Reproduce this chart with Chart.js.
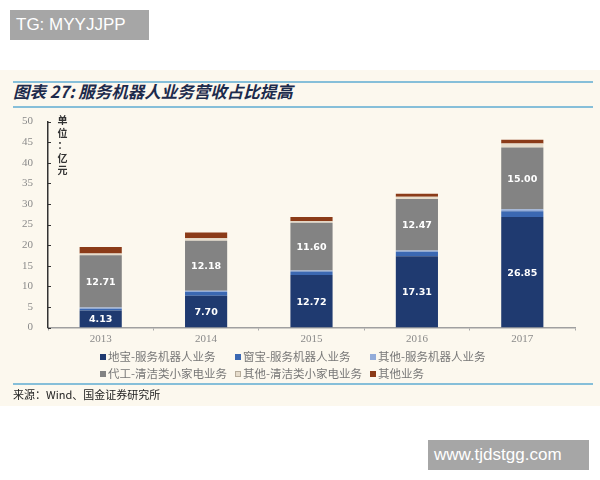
<!DOCTYPE html>
<html>
<head>
<meta charset="utf-8">
<script src="https://cdn.jsdelivr.net/npm/chart.js@4/dist/chart.umd.min.js"></script>
<style>
  html, body { margin: 0; padding: 0; background: #ffffff; }
  body { width: 600px; height: 480px; position: relative; overflow: hidden; font-family: "Noto Sans CJK SC", sans-serif; }
  #paper { position: absolute; left: 0; top: 70px; width: 600px; height: 336px; background: #fcf8ee; }
  .rule { position: absolute; left: 13px; width: 580px; height: 2px; background: #86bfd9; }
  #title { position: absolute; left: 13px; top: 79px; font-size: 16.5px; font-weight: bold; font-style: italic; color: #1d2b4c; line-height: 24px; white-space: nowrap; }
  #unit { position: absolute; left: 57px; top: 114px; font-size: 10px; font-weight: bold; color: #333; line-height: 12.5px; text-align: center; width: 11px; }
  #wrap { position: absolute; left: 0; top: 100px; width: 600px; height: 250px; }
  #legend { position: absolute; left: 100px; top: 349px; display: grid; grid-template-columns: 135px 135px 135px; row-gap: 2px; font-size: 11.5px; color: #777; line-height: 15px; white-space: nowrap; }
  #legend span.b { display: inline-block; width: 6px; height: 6px; margin-right: 2px; vertical-align: 1px; }
  #source { position: absolute; left: 13px; top: 386px; font-size: 11px; color: #222; line-height: 16px; }
  .wm { position: absolute; background: #a6a6a6; color: #fff; font-family: "Liberation Sans", Arial, sans-serif; font-size: 17px; line-height: 30px; padding-left: 6px; box-sizing: border-box; }
</style>
</head>
<body>
<div id="paper"></div>
<div class="rule" style="top:81px"></div>
<div id="title">图表 27: 服务机器人业务营收占比提高</div>
<div class="rule" style="top:106px"></div>
<div id="wrap"><canvas id="c" width="600" height="250"></canvas></div>
<div id="unit">单<br>位<br>：<br>亿<br>元</div>
<div id="legend"></div>
<div class="rule" style="top:383px"></div>
<div id="source">来源：Wind、国金证券研究所</div>
<div class="wm" style="left:10px;top:10px;width:139px;height:30px;">TG: MYYJJPP</div>
<div class="wm" style="left:428px;top:440px;width:161px;height:30px;">www.tjdstgg.com</div>
<script>
const categories = ['2013', '2014', '2015', '2016', '2017'];
const seriesNames = ['地宝-服务机器人业务', '窗宝-服务机器人业务', '其他-服务机器人业务', '代工-清洁类小家电业务', '其他-清洁类小家电业务', '其他业务'];
const dibao = [4.13, 7.70, 12.72, 17.31, 26.85];
const chuangbao = [0.4, 0.9, 0.9, 1.1, 1.35];
const otherRobot = [0.3, 0.3, 0.2, 0.3, 0.5];
const oem = [12.71, 12.18, 11.60, 12.47, 15.00];
const otherClean = [0.4, 0.6, 0.4, 0.6, 1.0];
const otherBiz = [1.6, 1.4, 1.0, 0.7, 0.9];
const yTicks = [0, 5, 10, 15, 20, 25, 30, 35, 40, 45, 50];
const colors = ['#1f3a70', '#3b68b2', '#93acd9', '#838383', '#e6dccb', '#8b3b18'];
const labelled = [true, false, false, true, false, false];

const seriesValues = [dibao, chuangbao, otherRobot, oem, otherClean, otherBiz];
const datasets = seriesValues.map((v, i) => ({
  label: seriesNames[i],
  data: v,
  backgroundColor: colors[i],
  borderWidth: 0,
  barPercentage: 0.4,
  categoryPercentage: 1.0,
  showValue: labelled[i]
}));

const valueLabels = {
  id: 'valueLabels',
  afterDatasetsDraw(chart) {
    const ctx = chart.ctx;
    ctx.save();
    ctx.font = 'bold 9.5px "DejaVu Sans", Verdana, sans-serif';
    ctx.fillStyle = '#ffffff';
    ctx.textAlign = 'center';
    ctx.textBaseline = 'middle';
    chart.data.datasets.forEach((ds, di) => {
      if (!ds.showValue) return;
      chart.getDatasetMeta(di).data.forEach((bar, i) => {
        const mid = (bar.y + bar.base) / 2;
        ctx.fillText(ds.data[i].toFixed(2), bar.x, mid + 1);
      });
    });
    ctx.restore();
  }
};

const innerTicks = {
  id: 'innerTicks',
  afterDraw(chart) {
    const y = chart.scales.y;
    const ctx = chart.ctx;
    ctx.save();
    ctx.strokeStyle = '#333';
    ctx.lineWidth = 1;
    y.ticks.forEach(t => {
      const py = Math.round(y.getPixelForValue(t.value)) + 0.5;
      ctx.beginPath();
      ctx.moveTo(y.right, py);
      ctx.lineTo(y.right + 3, py);
      ctx.stroke();
    });
    ctx.restore();
  }
};

const chart = new Chart(document.getElementById('c'), {
  type: 'bar',
  data: { labels: categories, datasets },
  options: {
    responsive: false,
    animation: false,
    devicePixelRatio: 1,
    layout: { padding: { left: 0, right: 25, top: 18, bottom: 0 } },
    plugins: { legend: { display: false }, tooltip: { enabled: false } },
    scales: {
      x: {
        stacked: true,
        grid: { display: true, drawOnChartArea: false, drawTicks: true, tickLength: 3, color: '#aaaaaa', offset: true },
        border: { display: true, color: '#a0a0a0', width: 1.5 },
        ticks: { color: '#8a8a8a', font: { family: '"Liberation Serif", serif', size: 11 }, padding: 2 },
        afterFit: s => { s.height = 22.5; }
      },
      y: {
        stacked: true,
        min: 0, max: 50,
        afterBuildTicks: s => { s.ticks = yTicks.map(v => ({ value: v })); },
        grid: { display: false, drawTicks: false },
        border: { display: true, color: '#333333', width: 1.5 },
        ticks: { color: '#8a8a8a', font: { family: '"Liberation Serif", serif', size: 11 }, padding: 15 },
        afterFit: s => { s.width = 48; }
      }
    }
  },
  plugins: [valueLabels, innerTicks]
});

const legend = document.getElementById('legend');
chart.data.datasets.forEach(ds => {
  const item = document.createElement('div');
  const box = document.createElement('span');
  box.className = 'b';
  box.style.background = ds.backgroundColor;
  if (ds.backgroundColor === '#e6dccb') { box.style.border = '1px solid #b5ab9a'; box.style.width = '4px'; box.style.height = '4px'; }
  item.appendChild(box);
  item.appendChild(document.createTextNode(ds.label));
  legend.appendChild(item);
});
</script>
</body>
</html>
